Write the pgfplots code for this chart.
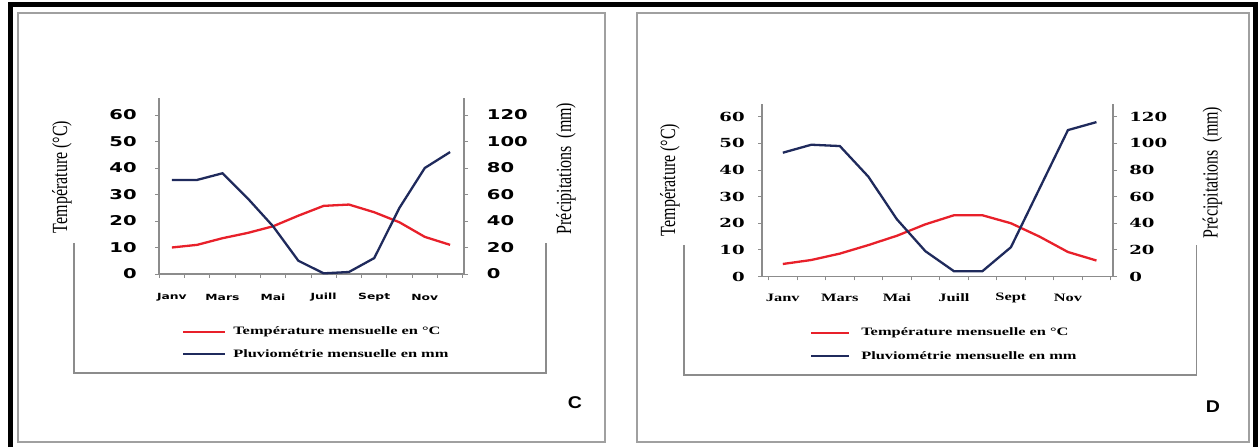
\documentclass[border=0pt]{standalone}
\usepackage{pgfplots}
\pgfplotsset{compat=1.18}
\usepackage{pgfplotstable}
\usepackage{fontspec}
\setmainfont{Liberation Serif}
\newfontfamily\dvs{DejaVu Sans}
\newfontfamily\dvserif{DejaVu Serif}
\newfontfamily\lsans{Liberation Sans}
\definecolor{tred}{HTML}{E8202A}
\definecolor{pblue}{HTML}{1F2A5C}
\definecolor{axg}{HTML}{8C8C8C}
\definecolor{frg}{HTML}{A0A0A0}

\pgfplotstableread{
m T P
0 10 71
1 11 71
2 13.5 76
3 15.5 57
4 18 36
5 22 10
6 25.7 0.5
7 26.2 1.5
8 23.3 12
9 19.5 50
10 14 80
11 11 92
}\dataC

\pgfplotstableread{
m T P
0 4.7 93
1 6.2 99
2 8.6 98
3 11.8 75
4 15.3 43
5 19.6 19
6 23 4
7 23 4
8 20 22
9 15 66
10 9.2 110
11 6 116
}\dataD

\pgfplotsset{
  climbase/.style={
    anchor=south west, scale only axis, clip=false,
    ymin=0,
    axis line style={axg, line width=1.3pt},
    tick style={axg, line width=0.8pt},
    tick align=outside, major tick length=4pt, minor tick length=4pt,
    /pgf/number format/assume math mode=true,
  },
}

\begin{document}
\begin{tikzpicture}
\path[use as bounding box] (0pt,0pt) rectangle (1260pt,447pt);
% frames
\draw[frg, line width=2pt] (18pt,5pt) rectangle (605pt,434pt);
\draw[frg, line width=2.5pt] (637pt,5pt) rectangle (1249pt,434pt);
\draw[black, line width=5pt] (10pt,0pt) -- (10pt,442pt) -- (1255pt,442pt) -- (1255pt,0pt);
% brackets
\draw[axg, line width=1.3pt] (74pt,204pt) -- (74pt,74pt) -- (546pt,74pt) -- (546pt,204pt);
\draw[axg, line width=1.3pt] (684pt,202pt) -- (684pt,72pt) -- (1196.5pt,72pt) -- (1196.5pt,202pt);

% ===== Panel C =====
\begin{axis}[climbase,
  at={(159pt,173pt)}, width=305pt, height=176pt,
  xmin=-0.51, xmax=11.55, ymax=66.4,
  axis x line*=bottom, axis y line*=left,
  major x tick style={draw=none},
  xtick={0,2,...,10}, xticklabels={Janv,Mars,Mai,Juill,Sept,Nov},
  minor xtick={-0.5,0.5,...,11.5},
  ytick={0,10,...,60},
  yticklabel style={font=\dvs\bfseries\fontsize{13.5}{14}\selectfont, anchor=east, inner sep=0pt, xshift=-18pt, xscale=1.45},
  xticklabel style={font=\dvs\bfseries\fontsize{8.5}{9}\selectfont, anchor=center, inner sep=0pt, yshift=-19pt, xscale=1.45},
]
\addplot[tred, line width=2.3pt] table[x=m, y=T] {\dataC};
\end{axis}
\begin{axis}[climbase,
  at={(159pt,173pt)}, width=305pt, height=176pt,
  xmin=-0.51, xmax=11.55, ymax=132.8,
  axis x line=none, axis y line*=right,
  ytick={0,20,...,120},
  yticklabel style={font=\dvs\bfseries\fontsize{13.5}{14}\selectfont, anchor=west, inner sep=0pt, xshift=18.7pt, xscale=1.45},
]
\addplot[pblue, line width=2.3pt] table[x=m, y=P] {\dataC};
\end{axis}

% ===== Panel D =====
\begin{axis}[climbase,
  at={(762pt,170.5pt)}, width=351pt, height=172.5pt,
  xmin=-0.73, xmax=11.58, ymax=64.8,
  axis x line*=bottom, axis y line*=left,
  major x tick style={draw=none},
  xtick={0,2,...,10}, xticklabels={Janv,Mars,Mai,Juill,Sept,Nov},
  minor xtick={-0.5,0.5,...,11.5},
  ytick={0,10,...,60},
  yticklabel style={font=\dvserif\bfseries\fontsize{12.5}{13}\selectfont, anchor=east, inner sep=0pt, xshift=-13pt, xscale=1.45},
  xticklabel style={font=\bfseries\fontsize{11.3}{12}\selectfont, anchor=center, inner sep=0pt, yshift=-17.5pt, xscale=1.45},
]
\addplot[tred, line width=2.3pt] table[x=m, y=T] {\dataD};
\end{axis}
\begin{axis}[climbase,
  at={(762pt,170.5pt)}, width=351pt, height=172.5pt,
  xmin=-0.73, xmax=11.58, ymax=129.6,
  axis x line=none, axis y line*=right,
  ytick={0,20,...,120},
  yticklabel style={font=\dvserif\bfseries\fontsize{12.5}{13}\selectfont, anchor=west, inner sep=0pt, xshift=12pt, xscale=1.45},
]
\addplot[pblue, line width=2.3pt] table[x=m, y=P] {\dataD};
\end{axis}

% axis titles
\node[rotate=90, yscale=1.35, font=\fontsize{16}{16}\selectfont, inner sep=0pt] at (62pt,270pt) {Température (°C)};
\node[rotate=90, yscale=1.35, font=\fontsize{16}{16}\selectfont, inner sep=0pt] at (566pt,278.5pt) {Précipitations~~(mm)};
\node[rotate=90, yscale=1.35, font=\fontsize{16}{16}\selectfont, inner sep=0pt] at (670pt,267pt) {Température (°C)};
\node[rotate=90, yscale=1.35, font=\fontsize{16}{16}\selectfont, inner sep=0pt] at (1212.5pt,274.5pt) {Précipitations~~(mm)};

% legends
\draw[tred, line width=2pt] (183pt,115.3pt) -- (225pt,115.3pt);
\node[anchor=west, inner sep=0pt, font=\bfseries\fontsize{11.3}{12}\selectfont, xscale=1.45] at (233pt,115.3pt) {Température mensuelle en °C};
\draw[pblue, line width=2pt] (183pt,93pt) -- (225pt,93pt);
\node[anchor=west, inner sep=0pt, font=\bfseries\fontsize{11.3}{12}\selectfont, xscale=1.45] at (233pt,93pt) {Pluviométrie mensuelle en mm};

\draw[tred, line width=2pt] (811pt,114.3pt) -- (849pt,114.3pt);
\node[anchor=west, inner sep=0pt, font=\bfseries\fontsize{11.3}{12}\selectfont, xscale=1.45] at (861pt,114.3pt) {Température mensuelle en °C};
\draw[pblue, line width=2pt] (811pt,91pt) -- (849pt,91pt);
\node[anchor=west, inner sep=0pt, font=\bfseries\fontsize{11.3}{12}\selectfont, xscale=1.45] at (861pt,91pt) {Pluviométrie mensuelle en mm};

% panel letters
\node[font=\lsans\bfseries\fontsize{17}{17}\selectfont, xscale=1.15, inner sep=0pt] at (575pt,44pt) {C};
\node[font=\lsans\bfseries\fontsize{17}{17}\selectfont, xscale=1.15, inner sep=0pt] at (1213pt,40pt) {D};
\end{tikzpicture}
\end{document}
